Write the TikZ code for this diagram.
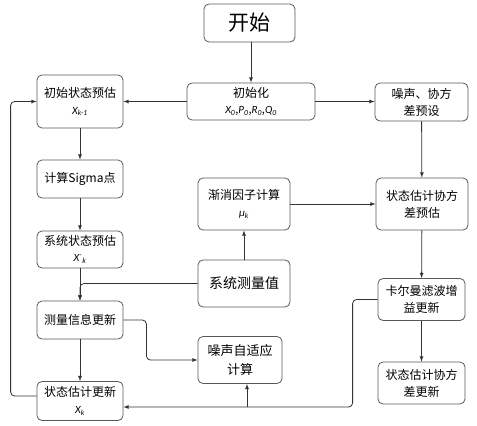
\documentclass[tikz,border=0pt]{standalone}
\usepackage{fontspec}
\setmainfont{Noto Sans CJK SC}
\newfontfamily\lat{Carlito}
\usetikzlibrary{arrows.meta,calc,positioning}
\tikzset{>=latex}
\tikzset{
blk/.style={draw=black!65, line width=0.8pt, rounded corners=5pt, align=center, inner sep=1pt,
  font=\fontsize{12}{17}\selectfont},
line/.style={->, draw=black!80, line width=0.8pt, rounded corners=4pt}
}
\newcommand{\vq}[2]{{\lat\itshape #1\textsubscript{#2}}}
\newcommand{\vqm}[2]{{\lat\itshape #1\textsuperscript{-}\textsubscript{#2}}}

\begin{document}
\begin{tikzpicture}[x=1pt, y=-1pt]
\useasboundingbox[fill=white] (0,0) rectangle (477,426);

\node[blk, minimum width=91pt, minimum height=38pt, font=\fontsize{21}{24}\selectfont] (start) at (249.5,23) {开始};
\node[blk, minimum width=128pt, minimum height=37pt] (init) at (251,101.5)
  {初始化\\[-1pt]{\fontsize{11}{12}\selectfont\vq{X}{0},\vq{P}{0},\vq{R}{0},\vq{Q}{0}}};
\node[blk, minimum width=86pt, minimum height=53pt] (prior) at (80,101.5)
  {初始状态预估\\{\fontsize{11}{12}\selectfont\vq{X}{k-1}}};
\node[blk, minimum width=93pt, minimum height=38pt] (preset) at (421.5,102) {噪声、协方\\差预设};
\node[blk, minimum width=86pt, minimum height=38pt] (sigma) at (80,179) {计算Sigma点};
\node[blk, minimum width=92pt, minimum height=52pt] (fading) at (244,204)
  {渐消因子计算\\{\fontsize{11}{12}\selectfont\vq{μ}{k}}};
\node[blk, minimum width=92pt, minimum height=52pt] (covpred) at (422,204) {状态估计协方\\差预估};
\node[blk, minimum width=86pt, minimum height=37pt] (sysstate) at (80,249.5)
  {系统状态预估\\[-1pt]{\fontsize{11}{12}\selectfont\vqm{X}{k}}};
\node[blk, minimum width=92pt, minimum height=47pt, font=\fontsize{14}{17}\selectfont] (meas) at (244,283.5) {系统测量值};
\node[blk, minimum width=87pt, minimum height=42pt] (gain) at (421.5,299.5) {卡尔曼滤波增\\益更新};
\node[blk, minimum width=86pt, minimum height=38pt] (measupd) at (80,320) {测量信息更新};
\node[blk, minimum width=84pt, minimum height=47pt, font=\fontsize{13}{19}\selectfont] (noise) at (240,360) {噪声自适应\\计算};
\node[blk, minimum width=87pt, minimum height=42pt] (covupd) at (421.5,383) {状态估计协方\\差更新};
\node[blk, minimum width=86pt, minimum height=39pt] (stateupd) at (80,401)
  {状态估计更新\\{\fontsize{11}{12}\selectfont\vq{X}{k}}};

\coordinate (tap) at (247,407);

\draw[line] (start.south -| init) -- (init.north);
\draw[line] (init.west) -- (prior.east);
\draw[line] (init.east) -- (init.east -| preset.west);
\draw[line] (preset) -- (covpred);
\draw[line] (covpred) -- (gain);
\draw[line] (gain) -- (covupd);
\draw[line] (prior) -- (sigma);
\draw[line] (sigma) -- (sysstate);
\draw[line] (sysstate) -- (measupd);
\draw[line] (meas.west) -| (measupd.north);
\draw[line] (meas) -- (fading);
\draw[line] (fading) -- (covpred);
\draw[line] (measupd.east) -- ++(23,0) |- (noise.west);
\draw[line] (measupd) -- (stateupd);
\draw[line] (gain.west) -- ++(-25,0) |- ([yshift=-6pt]stateupd.east);
\draw[line] (tap) -- (tap |- noise.south);
\draw[line] ([yshift=5pt]stateupd.west) -- ++(-26,0) |- (prior.west);
\end{tikzpicture}
\end{document}
